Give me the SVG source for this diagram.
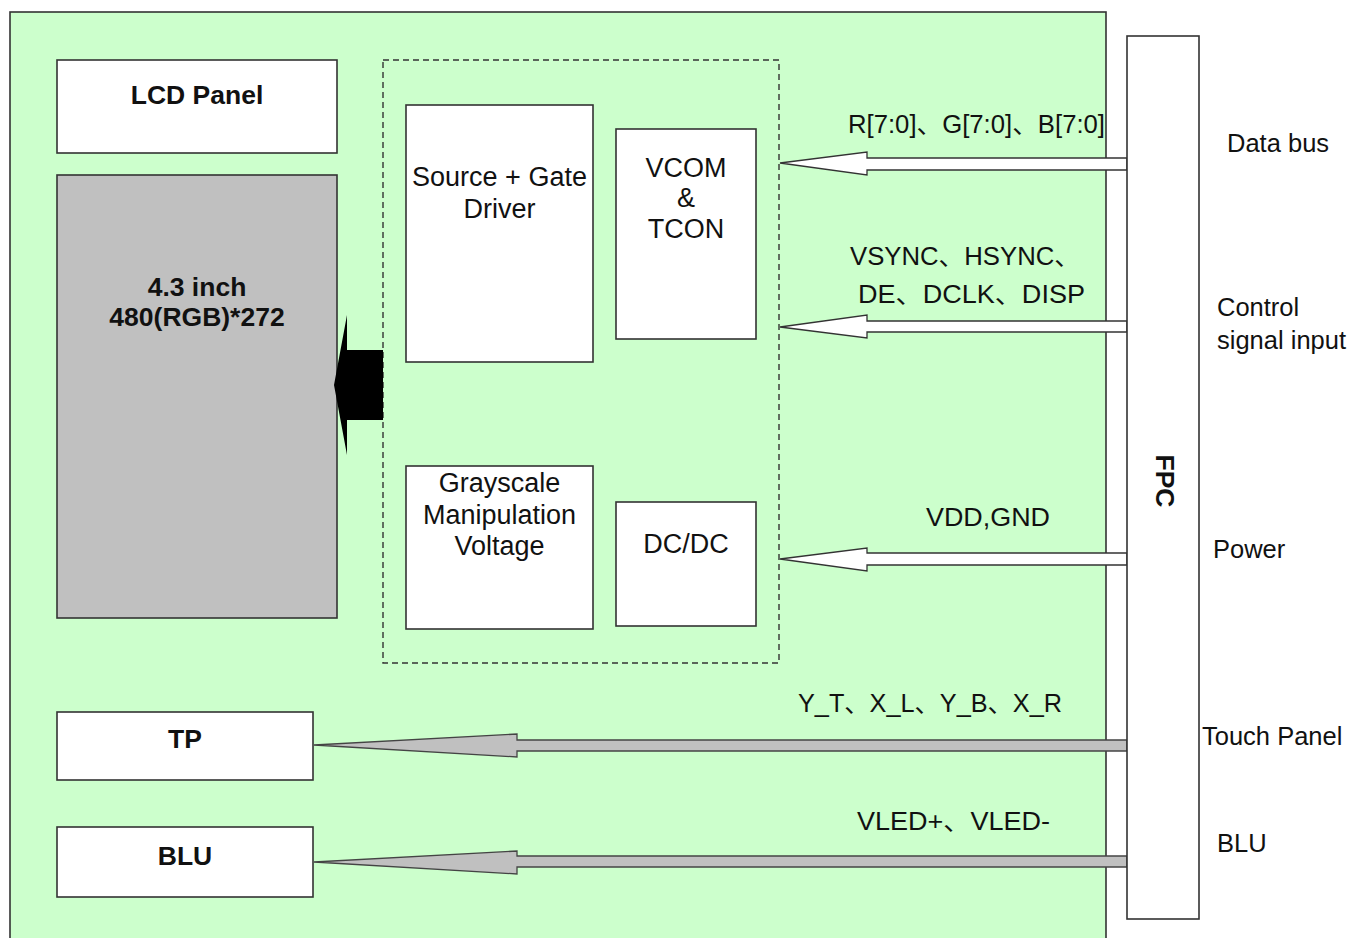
<svg xmlns="http://www.w3.org/2000/svg" width="1351" height="938" viewBox="0 0 1351 938">
<style>
.box{fill:#ffffff;stroke:#333333;stroke-width:1.6}
.t{font-family:"Liberation Sans",Arial,"Noto Sans CJK SC",sans-serif;font-size:27px;fill:#111111;text-anchor:middle}
.b{font-family:"Liberation Sans",Arial,sans-serif;font-size:26.5px;font-weight:bold;fill:#111111;text-anchor:middle}
.l{font-family:"Liberation Sans",Arial,"Noto Sans CJK SC",sans-serif;font-size:25.5px;fill:#111111}
.hollow{fill:#ffffff;stroke:#333333;stroke-width:1.3}
.gray{fill:#c0c0c0;stroke:#444444;stroke-width:1.3}
</style>
<rect x="0" y="0" width="1351" height="938" fill="#ffffff"/>
<g id="board">
<rect x="10" y="12" width="1096" height="940" fill="#ccffcc" stroke="#333333" stroke-width="1.6"/>
</g>
<g id="driver-area">
<rect x="383" y="60" width="396" height="603" fill="none" stroke="#333333" stroke-width="1.4" stroke-dasharray="6,4"/>
</g>
<g id="lcd-panel">
<rect class="box" x="57" y="60" width="280" height="93"/>
<text class="b" x="197" y="104">LCD Panel</text>
</g>
<g id="panel-glass">
<rect x="57" y="175" width="280" height="443" fill="#c0c0c0" stroke="#333333" stroke-width="1.6"/>
<text class="b" x="197" y="296">4.3 inch</text>
<text class="b" x="197" y="326">480(RGB)*272</text>
</g>
<g id="source-gate">
<rect class="box" x="406" y="105" width="187" height="257"/>
<text class="t" x="499.5" y="186">Source + Gate</text>
<text class="t" x="499.5" y="218">Driver</text>
</g>
<g id="vcom-tcon">
<rect class="box" x="616" y="129" width="140" height="210"/>
<text class="t" x="686" y="177">VCOM</text>
<text class="t" x="686" y="207">&amp;</text>
<text class="t" x="686" y="238">TCON</text>
</g>
<g id="grayscale">
<rect class="box" x="406" y="466" width="187" height="163"/>
<text class="t" x="499.5" y="492">Grayscale</text>
<text class="t" x="499.5" y="524">Manipulation</text>
<text class="t" x="499.5" y="555">Voltage</text>
</g>
<g id="dcdc">
<rect class="box" x="616" y="502" width="140" height="124"/>
<text class="t" x="686" y="553">DC/DC</text>
</g>
<g id="tp">
<rect class="box" x="57" y="712" width="256" height="68"/>
<text class="b" x="185" y="748">TP</text>
</g>
<g id="blu">
<rect class="box" x="57" y="827" width="256" height="70"/>
<text class="b" x="185" y="865">BLU</text>
</g>
<g id="connectors">
<polygon points="383,350 347,350 347,315 334,385 347,455 347,420 383,420" fill="#000000"/>
<polygon class="hollow" points="1127,158 867,158 867,152 780,163 867,175 867,170 1127,170"/>
<polygon class="hollow" points="1127,321 867,321 867,315 780,327 867,338 867,332 1127,332"/>
<polygon class="hollow" points="1127,553 867,553 867,548 780,559 867,571 867,565 1127,565"/>
<polygon class="gray" points="1127,740 517,740 517,734 314,745 517,757 517,751 1127,751"/>
<polygon class="gray" points="1127,856 517,856 517,851 314,862 517,874 517,867 1127,867"/>
</g>
<g id="fpc">
<rect class="box" x="1127" y="36" width="72" height="883"/>
<text class="b" x="0" y="0" transform="translate(1156,481) rotate(90)">FPC</text>
</g>
<g id="signal-labels">
<text class="l" x="848" y="133" textLength="257" lengthAdjust="spacingAndGlyphs">R[7:0]、G[7:0]、B[7:0]</text>
<text class="l" x="850" y="265" textLength="230" lengthAdjust="spacingAndGlyphs">VSYNC、HSYNC、</text>
<text class="l" x="858" y="303" textLength="227" lengthAdjust="spacingAndGlyphs">DE、DCLK、DISP</text>
<text class="l" x="926" y="526" textLength="124" lengthAdjust="spacingAndGlyphs">VDD,GND</text>
<text class="l" x="798" y="712" textLength="264" lengthAdjust="spacingAndGlyphs">Y_T、X_L、Y_B、X_R</text>
<text class="l" x="857" y="830" textLength="193" lengthAdjust="spacingAndGlyphs">VLED+、VLED-</text>
</g>
<g id="side-labels">
<text class="l" x="1227" y="152">Data bus</text>
<text class="l" x="1217" y="316">Control</text>
<text class="l" x="1217" y="349">signal input</text>
<text class="l" x="1213" y="558">Power</text>
<text class="l" x="1202" y="745">Touch Panel</text>
<text class="l" x="1217" y="852">BLU</text>
</g>
</svg>
